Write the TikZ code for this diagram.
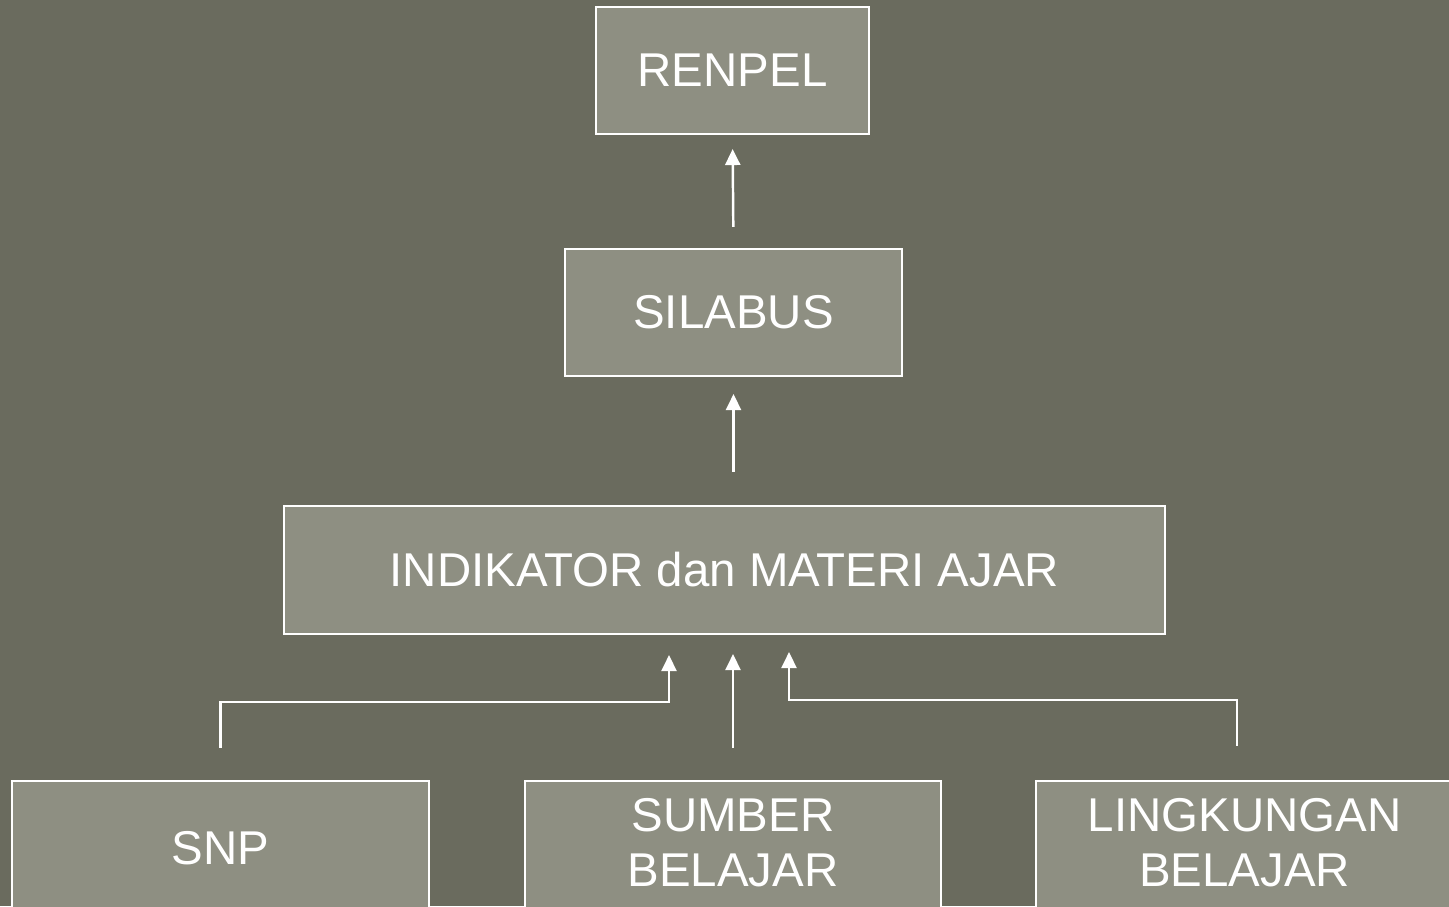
\documentclass[tikz,border=0pt]{standalone}
\usepackage{fontspec}
\setmainfont{Liberation Sans}
\usetikzlibrary{arrows.meta,calc}
\definecolor{bg}{HTML}{6A6B5E}
\definecolor{boxfill}{HTML}{8E8F82}
\begin{document}
\begin{tikzpicture}[x=0.02cm,y=-0.02cm,
  box/.style={draw=white,line width=1.2pt,fill=boxfill,text=white,inner sep=0pt,align=center,
    font=\fontsize{27}{31.5}\selectfont},
  arr/.style={draw=white,line width=1.4pt,-{Triangle[width=0.3cm,length=0.32cm]}}]
\useasboundingbox (0,0) rectangle (1449,906);
\clip (0,0) rectangle (1449,906);
\fill[bg] (0,0) rectangle (1449,906);
\node[box,minimum width=5.46cm,minimum height=2.54cm] (renpel) at (732.5,70.5) {RENPEL};
\node[box,minimum width=6.74cm,minimum height=2.54cm] (silabus) at (733.5,312.5) {SILABUS};
\node[box,minimum width=17.62cm,minimum height=2.56cm] (ind) at (724.5,570) {INDIKATOR dan MATERI AJAR};
\node[box,minimum width=8.34cm,minimum height=2.68cm] (snp) at (220.5,848) {SNP};
\node[box,minimum width=8.32cm,minimum height=2.68cm] (sumber) at (733,848) {SUMBER\\BELAJAR\\[-25.5pt]\mbox{}};
\node[box,minimum width=8.34cm,minimum height=2.68cm] (lingk) at (1244.5,848) {LINGKUNGAN\\BELAJAR\\[-25.5pt]\mbox{}};
\draw[arr,shorten <=0.42cm,shorten >=0.28cm] (silabus.north) -- (renpel.south);
\draw[arr,shorten <=0.66cm,shorten >=0.34cm] (silabus.south |- ind.north) -- (silabus.south);
\draw[arr,shorten <=0.64cm,shorten >=0.38cm] (sumber.north) -- (sumber.north |- ind.south);
\draw[arr,shorten <=0.64cm,shorten >=0.4cm] (snp.north) |- ($(ind.south)+(-55.5,67)$) -- ($(ind.south)+(-55.5,0)$);
\draw[arr,shorten <=0.68cm,shorten >=0.34cm] ($(lingk.north)+(-7.5,0)$) |- ($(ind.south)+(64.5,65)$) -- ($(ind.south)+(64.5,0)$);
\end{tikzpicture}
\end{document}
